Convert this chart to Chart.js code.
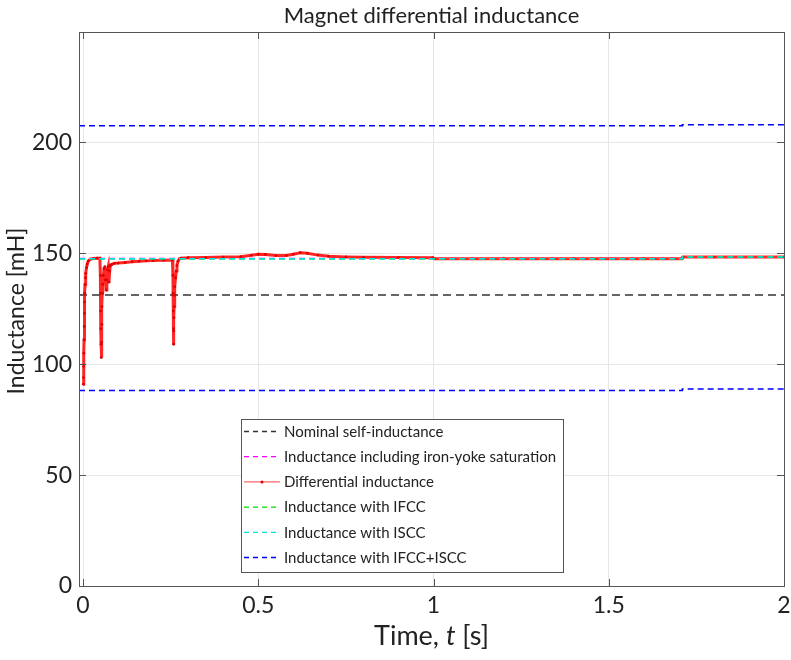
<!DOCTYPE html>
<html>
<head>
<meta charset="utf-8">
<script src="https://cdn.jsdelivr.net/npm/chart.js@4.4.1/dist/chart.umd.min.js"></script>
<style>
  html, body { margin: 0; padding: 0; background: #fff; }
  #wrap { width: 791px; height: 660px; }
</style>
</head>
<body>
<div id="wrap"><canvas id="inductanceChart" width="791" height="660"></canvas></div>
<script>
// axis ticks
const xMin = -0.0115;
const xMax = 2;
const xTicks = [0, 0.5, 1, 1.5, 2];
const yTicks = [0, 50, 100, 150, 200];

// differential inductance (mH) vs time (s)
const tDiff = [0.001, 0.0015, 0.002, 0.0025, 0.003, 0.0035, 0.004, 0.0045, 0.005, 0.006, 0.007, 0.008, 0.01, 0.012, 0.015, 0.02, 0.03, 0.04, 0.048,
  0.0495, 0.05, 0.0505, 0.051, 0.0515, 0.052, 0.053, 0.0535, 0.054, 0.055, 0.056, 0.058, 0.06, 0.062, 0.064, 0.066, 0.068, 0.07, 0.072, 0.074, 0.076, 0.078, 0.082, 0.09, 0.1, 0.12, 0.14, 0.16, 0.18, 0.2, 0.23, 0.255,
  0.2565, 0.257, 0.2575, 0.258, 0.2585, 0.259, 0.2595, 0.26, 0.261, 0.262, 0.264, 0.266, 0.268, 0.271, 0.275, 0.28, 0.3,
  0.35, 0.4, 0.45, 0.48, 0.5, 0.52, 0.55, 0.58, 0.6, 0.62, 0.64, 0.67, 0.7, 0.75, 0.8, 0.9, 0.998, 1.002, 1.2, 1.4, 1.6, 1.709, 1.712, 1.8, 2.0];
const lDiff = [91, 94, 99, 105, 111, 117, 123, 128, 132, 136, 139, 141, 143.5, 145.2, 146.5, 147.3, 147.7, 147.8, 147.8,
  140, 132, 124, 116, 109, 103, 110, 118, 126, 132, 136, 140, 143, 144, 138, 133.5, 138, 142.5, 144, 137, 142, 144.5, 145, 145.5, 145.6, 145.9, 146.2, 146.4, 146.6, 146.8, 146.9, 147.0,
  140, 132, 124, 116, 109, 115, 121, 126, 131, 135, 139, 142, 144.5, 146.5, 147.5, 147.8, 148.0,
  148.1, 148.3, 148.5, 149.1, 149.6, 149.5, 149.0, 149.0, 149.6, 150.3, 150.0, 149.2, 148.7, 148.4, 148.2, 148.1, 148.0, 147.6, 147.6, 147.6, 147.6, 147.6, 148.3, 148.3, 148.3];

// constant reference levels (step at t = 1.71 s)
const tLevel = [xMin, 1.71, 1.71, 2];
const lNominal = [131.2, 131.2, 131.2, 131.2];
const lIronYoke = [147.7, 147.7, 148.3, 148.3];
const lIFCC = [147.6, 147.6, 148.3, 148.3];
const lISCC = [147.6, 147.6, 148.3, 148.3];
const lBothHigh = [207.5, 207.5, 208.0, 208.0];
const lBothLow = [88.2, 88.2, 88.8, 88.8];

const seriesLabels = ['Nominal self-inductance', 'Inductance including iron-yoke saturation', 'Differential inductance',
  'Inductance with IFCC', 'Inductance with ISCC', 'Inductance with IFCC+ISCC'];
const seriesColors = ['#333333', '#ff00ff', '#ff0000', '#00dd00', '#00e5e5', '#0000ff'];

const FONT = 'Lato, "Open Sans", sans-serif';

function pts(xs, ys) { return xs.map((x, i) => ({ x: x, y: ys[i] })); }

function dashed(i, ys, order, dash) {
  return {
    label: seriesLabels[i],
    data: pts(tLevel, ys),
    borderColor: seriesColors[i],
    borderWidth: 1.5,
    borderDash: dash,
    pointRadius: 0,
    fill: false,
    order: order
  };
}

// box, ticks, title, axis labels and legend
const decor = {
  id: 'decor',
  afterDraw(chart) {
    const ctx = chart.ctx;
    const a = chart.chartArea;
    const xs = chart.scales.x, ys = chart.scales.y;
    ctx.save();
    ctx.strokeStyle = '#555';
    ctx.lineWidth = 1;
    ctx.strokeRect(Math.round(a.left) + 0.5, Math.round(a.top) + 0.5, Math.round(a.right - a.left), Math.round(a.bottom - a.top));
    ctx.beginPath();
    xTicks.forEach(v => {
      const px = Math.round(xs.getPixelForValue(v)) + 0.5;
      ctx.moveTo(px, a.bottom); ctx.lineTo(px, a.bottom - 7);
      ctx.moveTo(px, a.top); ctx.lineTo(px, a.top + 7);
    });
    yTicks.forEach(v => {
      const py = Math.round(ys.getPixelForValue(v)) + 0.5;
      ctx.moveTo(a.left, py); ctx.lineTo(a.left + 7, py);
      ctx.moveTo(a.right, py); ctx.lineTo(a.right - 7, py);
    });
    ctx.stroke();

    ctx.fillStyle = '#222';
    ctx.textBaseline = 'alphabetic';
    ctx.textAlign = 'center';
    ctx.font = '22px ' + FONT;
    ctx.fillText('Magnet differential inductance', (a.left + a.right) / 2, 23);

    // x label with italic t
    const parts = [['Time, ', 'normal'], ['t', 'italic'], [' [s]', 'normal']];
    let w = 0;
    parts.forEach(p => { ctx.font = p[1] + ' 27px ' + FONT; w += ctx.measureText(p[0]).width; });
    let x = (a.left + a.right) / 2 - w / 2;
    ctx.textAlign = 'left';
    parts.forEach(p => {
      ctx.font = p[1] + ' 27px ' + FONT;
      ctx.fillText(p[0], x, 645);
      x += ctx.measureText(p[0]).width;
    });

    ctx.save();
    ctx.translate(24, 311);
    ctx.rotate(-Math.PI / 2);
    ctx.textAlign = 'center';
    ctx.font = '23px ' + FONT;
    ctx.fillText('Inductance [mH]', 0, 0);
    ctx.restore();

    // legend
    const lx = 241, ly = 419, lw = 322, lh = 153;
    ctx.fillStyle = '#fff';
    ctx.fillRect(lx, ly, lw, lh);
    ctx.strokeStyle = '#555';
    ctx.strokeRect(lx + 0.5, ly + 0.5, lw, lh);
    ctx.font = '15px ' + FONT;
    ctx.textBaseline = 'middle';
    seriesLabels.forEach((lab, i) => {
      const cy = 431 + i * 25.2;
      ctx.strokeStyle = seriesColors[i];
      ctx.lineWidth = 1.3;
      if (i === 2) {
        ctx.setLineDash([]);
        ctx.strokeStyle = 'rgba(255,0,0,0.6)';
      } else {
        ctx.setLineDash([5, 4]);
      }
      ctx.beginPath();
      ctx.moveTo(244, cy + 0.5); ctx.lineTo(280, cy + 0.5);
      ctx.stroke();
      if (i === 2) {
        ctx.fillStyle = '#d00';
        ctx.beginPath(); ctx.arc(262, cy + 0.5, 1.5, 0, Math.PI * 2); ctx.fill();
      }
      ctx.setLineDash([]);
      ctx.fillStyle = '#222';
      ctx.fillText(lab, 284, cy + 1);
    });
    ctx.restore();
  }
};

const ctx = document.getElementById('inductanceChart');
const inductanceChart = new Chart(ctx, {
  type: 'line',
  data: {
    datasets: [
      dashed(0, lNominal, 6, [8, 5]),
      dashed(1, lIronYoke, 5, [6, 4]),
      {
        label: seriesLabels[2],
        data: pts(tDiff, lDiff),
        borderColor: 'rgba(255,0,0,0.85)',
        borderWidth: 3,
        pointRadius: 1.4,
        pointBackgroundColor: '#e00000',
        pointBorderWidth: 0,
        fill: false,
        tension: 0,
        order: 4
      },
      dashed(3, lIFCC, 3, [6, 4]),
      dashed(4, lISCC, 2, [6, 4]),
      dashed(5, lBothHigh, 1, [6, 4]),
      dashed(5, lBothLow, 1, [6, 4])
    ]
  },
  options: {
    responsive: false,
    animation: false,
    layout: { padding: { top: 32, right: 7, left: 0, bottom: 0 } },
    plugins: { legend: { display: false }, title: { display: false }, tooltip: { enabled: false } },
    scales: {
      x: {
        type: 'linear', min: xMin, max: xMax,
        afterBuildTicks: s => { s.ticks = xTicks.map(v => ({ value: v })); },
        afterFit: s => { s.height = 74; s.paddingLeft = 0; s.paddingRight = 0; },
        grid: { color: '#e6e6e6', drawTicks: false },
        border: { display: false },
        ticks: { font: { family: FONT, size: 23 }, color: '#222', padding: 6, maxRotation: 0, autoSkip: false, callback: v => String(v) }
      },
      y: {
        min: 0, max: 249.8,
        afterBuildTicks: s => { s.ticks = yTicks.map(v => ({ value: v })); },
        afterFit: s => { s.width = 79; s.paddingTop = 0; s.paddingBottom = 0; },
        grid: { color: '#e6e6e6', drawTicks: false },
        border: { display: false },
        ticks: { font: { family: FONT, size: 23 }, color: '#222', padding: 7, autoSkip: false }
      }
    }
  },
  plugins: [decor]
});
</script>
</body>
</html>
